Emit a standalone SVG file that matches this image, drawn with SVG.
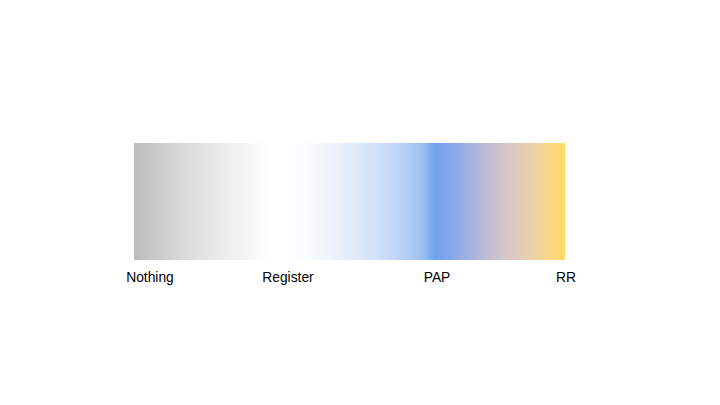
<svg xmlns="http://www.w3.org/2000/svg" width="720" height="405" viewBox="0 0 720 405">
<defs>
<linearGradient id="g" gradientUnits="userSpaceOnUse" x1="134" y1="0" x2="565" y2="0">
<stop offset="0" stop-color="#bcbcbc"/>
<stop offset="0.08" stop-color="#d2d2d2"/>
<stop offset="0.16" stop-color="#e3e3e3"/>
<stop offset="0.24" stop-color="#f2f2f2"/>
<stop offset="0.32" stop-color="#ffffff"/>
<stop offset="0.38" stop-color="#fcfdff"/>
<stop offset="0.45" stop-color="#f0f5fd"/>
<stop offset="0.50" stop-color="#e3ecfb"/>
<stop offset="0.57" stop-color="#cfdff8"/>
<stop offset="0.63" stop-color="#b6cff5"/>
<stop offset="0.67" stop-color="#9cbff2"/>
<stop offset="0.698" stop-color="#6fa2ee"/>
<stop offset="0.75" stop-color="#8eaae8"/>
<stop offset="0.81" stop-color="#b9bad8"/>
<stop offset="0.86" stop-color="#d6c5cb"/>
<stop offset="0.93" stop-color="#efd2a5"/>
<stop offset="1" stop-color="#ffd966"/>
</linearGradient>
<style>.l{font-family:"Liberation Sans",Arial,sans-serif;font-size:13.8px;fill:#000;text-anchor:middle}</style>
</defs>
<rect width="720" height="405" fill="#fff"/>
<g id="bar"><rect x="134" y="143" width="431" height="117" fill="url(#g)"/></g>
<g id="labels">
<text class="l" x="150" y="282">Nothing</text>
<text class="l" x="288" y="282">Register</text>
<text class="l" x="437" y="282">PAP</text>
<text class="l" x="566" y="282">RR</text>
</g>
</svg>
